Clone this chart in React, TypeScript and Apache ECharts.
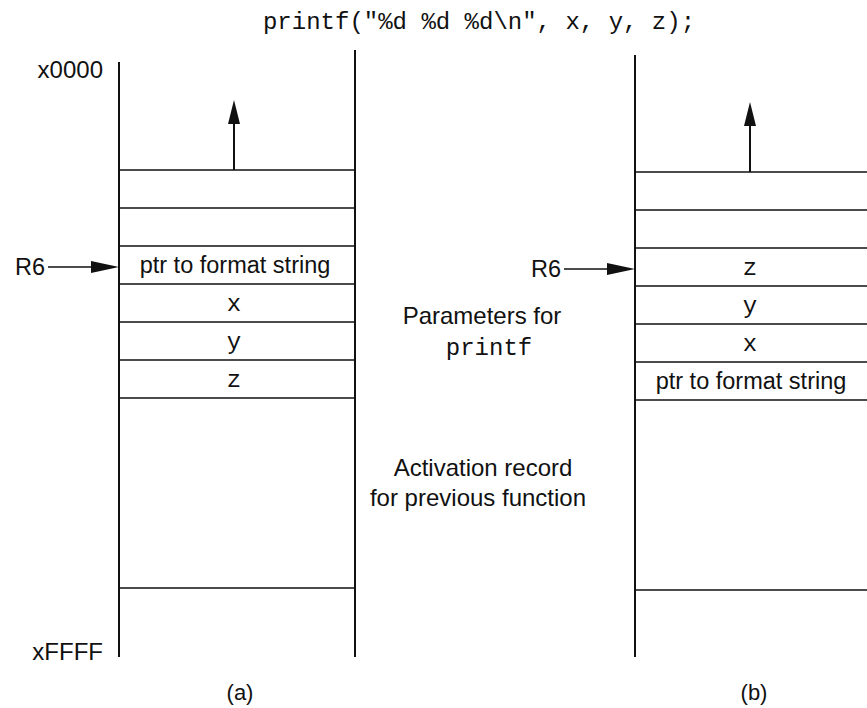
import React, { useEffect, useRef } from "react";
import * as echarts from "echarts";

// ---- content ----
const titleText = 'printf("%d %d %d\\n", x, y, z);';
const frameA = ["", "", "ptr to format string", "x", "y", "z"];
const frameB = ["", "", "z", "y", "x", "ptr to format string"];
const frames = [frameA, frameB];
const monoCells = ["x", "y", "z"];
const panelNames = ["(a)", "(b)"];
const addressLabels = ["x0000", "xFFFF"];
const pointerName = "R6";
const pointerSlot = [2, 2];
const previousRecordSlots = 5;
const noteParams = ["Parameters for", "printf"];
const notePrev = ["Activation record", "for previous function"];

// ---- layout (pixel space of the hidden axes) ----
const W = 867;
const H = 708;
const panelLeft = [119, 635];
const panelWidth = 236;
const slotTop = [170, 172];
const slotH = 38;
const leftTop = [62, 55];
const rightTop = [50, 50];
const memBottom = 657;

const SANS = '"Liberation Sans", Arial, Helvetica, sans-serif';
const MONO = '"Liberation Mono", "Courier New", monospace';
const INK = "#111";

function txt(c: number[], text: string, font: string, align = "center", va = "middle") {
  return {
    type: "text",
    x: c[0],
    y: c[1],
    style: {
      text,
      font,
      fill: INK,
      align,
      verticalAlign: va,
      textAlign: align,
      textVerticalAlign: va,
    },
  };
}

function seg(a: number[], b: number[], w: number) {
  return {
    type: "line",
    shape: { x1: a[0], y1: a[1], x2: b[0], y2: b[1] },
    style: { stroke: INK, lineWidth: w },
  };
}

function tri(pts: number[][]) {
  return { type: "polygon", shape: { points: pts }, style: { fill: INK } };
}

export default function App() {
  const ref = useRef<HTMLDivElement>(null);

  useEffect(() => {
    const prevMargin = document.body.style.margin;
    document.body.style.margin = "0";
    const chart = echarts.init(ref.current!, null, { renderer: "svg" });

    const renderItem = (params: any, api: any) => {
      const kind = api.value(0);
      const c = (x: number, y: number) => api.coord([x, y]);
      const children: any[] = [];
      if (kind === 0 || kind === 1) {
        const p = kind;
        const frame = frames[p];
        const L = panelLeft[p];
        const R = L + panelWidth;
        const mid = (L + R) / 2;
        const top = slotTop[p];
        // memory boundaries
        children.push(seg(c(L, leftTop[p]), c(L, memBottom), 2));
        children.push(seg(c(R, rightTop[p]), c(R, memBottom), 2));
        // slot lines
        for (let i = 0; i <= frame.length; i++) {
          const y = top + i * slotH;
          children.push(seg(c(L, y), c(R, y), 1.6));
        }
        const yb = top + (frame.length + previousRecordSlots) * slotH;
        children.push(seg(c(L, yb), c(R, yb), 1.6));
        // slot labels
        frame.forEach((label, i) => {
          if (!label) return;
          const y = top + (i + 0.5) * slotH;
          const mono = monoCells.indexOf(label) >= 0;
          children.push(
            txt(c(mid + (mono ? -3 : -2), y + (mono ? 1 : 0)), label, mono ? "24px " + MONO : "23.5px " + SANS)
          );
        });
        // growth arrow
        const ax = mid - 3;
        children.push(seg(c(ax, top), c(ax, top - 50), 2));
        children.push(tri([c(ax, top - 70), c(ax - 6, top - 46), c(ax + 6, top - 46)]));
        // R6 pointer
        const py = top + (pointerSlot[p] + 0.5) * slotH + 2;
        children.push(seg(c(L - 71, py), c(L - 20, py), 1.6));
        children.push(tri([c(L, py), c(L - 28, py - 6), c(L - 28, py + 6)]));
        children.push(txt(c(L - 74, py), pointerName, "23.5px " + SANS, "right"));
        // panel caption
        children.push(txt(c(mid + (p === 0 ? 3 : 1), 692), panelNames[p], "22px " + SANS));
      } else {
        children.push(txt(c(479, 22), titleText, "24px " + MONO));
        children.push(txt(c(103, 69), addressLabels[0], "24px " + SANS, "right"));
        children.push(txt(c(103, 651), addressLabels[1], "24px " + SANS, "right"));
        children.push(txt(c(482, 315), noteParams[0], "24px " + SANS));
        children.push(txt(c(489, 348), noteParams[1], "24px " + MONO));
        children.push(txt(c(483, 467), notePrev[0], "24px " + SANS));
        children.push(txt(c(478, 497), notePrev[1], "24px " + SANS));
      }
      return { type: "group", children };
    };

    chart.setOption({
      animation: false,
      backgroundColor: "#ffffff",
      grid: { left: 0, top: 0, right: 0, bottom: 0 },
      xAxis: { type: "value", min: 0, max: W, show: false },
      yAxis: { type: "value", min: 0, max: H, inverse: true, show: false },
      series: [
        {
          type: "custom",
          renderItem,
          data: [[0], [1], [2]],
          clip: false,
          silent: true,
        },
      ],
    });

    return () => {
      chart.dispose();
      document.body.style.margin = prevMargin;
    };
  }, []);

  return (
    <div
      ref={ref}
      style={{ position: "fixed", left: 0, top: 0, width: W, height: H, background: "#fff" }}
    />
  );
}
